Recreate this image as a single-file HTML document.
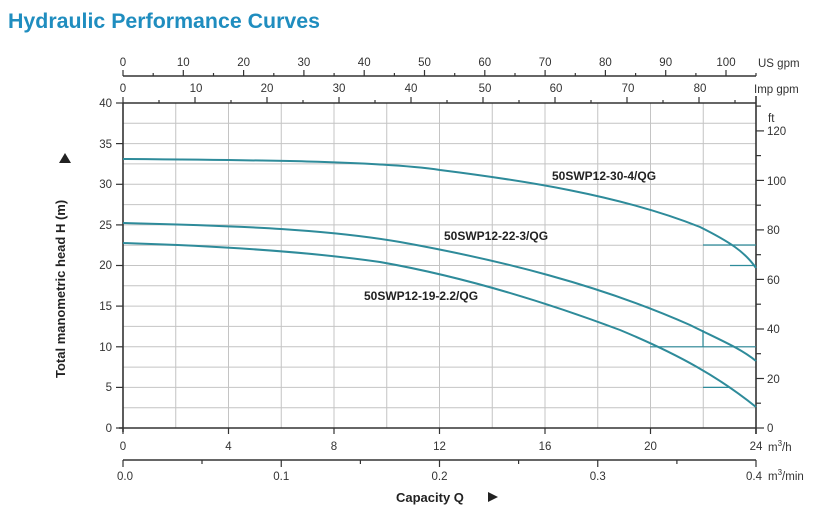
<!DOCTYPE html>
<html><head><meta charset="utf-8"><style>
html,body{margin:0;padding:0;background:#fff;}
svg{display:block;font-family:"Liberation Sans",Arial,sans-serif;}
</style></head><body>
<svg width="828" height="518" viewBox="0 0 828 518" xmlns="http://www.w3.org/2000/svg">
<text x="8" y="28" font-size="21" font-weight="bold" fill="#1f8dbf" textLength="312" lengthAdjust="spacingAndGlyphs">Hydraulic Performance Curves</text>
<g stroke="#c4c4c4" stroke-width="1">
<line x1="123" x2="756" y1="407.7" y2="407.7"/><line x1="123" x2="756" y1="387.4" y2="387.4"/>
<line x1="123" x2="756" y1="367.1" y2="367.1"/><line x1="123" x2="756" y1="346.8" y2="346.8"/>
<line x1="123" x2="756" y1="326.4" y2="326.4"/><line x1="123" x2="756" y1="306.1" y2="306.1"/>
<line x1="123" x2="756" y1="285.8" y2="285.8"/><line x1="123" x2="756" y1="265.5" y2="265.5"/>
<line x1="123" x2="756" y1="245.2" y2="245.2"/><line x1="123" x2="756" y1="224.9" y2="224.9"/>
<line x1="123" x2="756" y1="204.6" y2="204.6"/><line x1="123" x2="756" y1="184.3" y2="184.3"/>
<line x1="123" x2="756" y1="163.9" y2="163.9"/><line x1="123" x2="756" y1="143.6" y2="143.6"/>
<line x1="123" x2="756" y1="123.3" y2="123.3"/>
<line y1="103" y2="428" x1="175.75" x2="175.75"/><line y1="103" y2="428" x1="228.5" x2="228.5"/>
<line y1="103" y2="428" x1="281.25" x2="281.25"/><line y1="103" y2="428" x1="334" x2="334"/>
<line y1="103" y2="428" x1="386.75" x2="386.75"/><line y1="103" y2="428" x1="439.5" x2="439.5"/>
<line y1="103" y2="428" x1="492.25" x2="492.25"/><line y1="103" y2="428" x1="545" x2="545"/>
<line y1="103" y2="428" x1="597.75" x2="597.75"/><line y1="103" y2="428" x1="650.5" x2="650.5"/>
<line y1="103" y2="428" x1="703.25" x2="703.25"/>
</g>
<g stroke="#333" stroke-width="1.6" fill="none">
<line x1="123" y1="103" x2="756" y2="103"/>
<line x1="123" y1="103" x2="123" y2="432"/>
<line x1="119" y1="428" x2="756" y2="428"/>
<line x1="756" y1="96" x2="756" y2="434"/>
<line x1="123" y1="76" x2="756" y2="76"/>
<line x1="123" y1="460" x2="756" y2="460"/>
</g>
<g stroke="#333" stroke-width="1.2">
<line x1="116" x2="123" y1="103" y2="103"/><line x1="116" x2="123" y1="143.6" y2="143.6"/>
<line x1="116" x2="123" y1="184.3" y2="184.3"/><line x1="116" x2="123" y1="224.9" y2="224.9"/>
<line x1="116" x2="123" y1="265.5" y2="265.5"/><line x1="116" x2="123" y1="306.1" y2="306.1"/>
<line x1="116" x2="123" y1="346.8" y2="346.8"/><line x1="116" x2="123" y1="387.4" y2="387.4"/>
<line x1="116" x2="123" y1="428" y2="428"/>
<line x1="756" x2="764" y1="428" y2="428"/><line x1="756" x2="761" y1="403.2" y2="403.2"/>
<line x1="756" x2="764" y1="378.5" y2="378.5"/><line x1="756" x2="761" y1="353.7" y2="353.7"/>
<line x1="756" x2="764" y1="329" y2="329"/><line x1="756" x2="761" y1="304.2" y2="304.2"/>
<line x1="756" x2="764" y1="279.4" y2="279.4"/><line x1="756" x2="761" y1="254.7" y2="254.7"/>
<line x1="756" x2="764" y1="229.9" y2="229.9"/><line x1="756" x2="761" y1="205.2" y2="205.2"/>
<line x1="756" x2="764" y1="180.4" y2="180.4"/><line x1="756" x2="761" y1="155.6" y2="155.6"/>
<line x1="756" x2="764" y1="130.9" y2="130.9"/><line x1="756" x2="761" y1="106.1" y2="106.1"/>
<line y1="428" y2="434" x1="123" x2="123"/><line y1="428" y2="434" x1="228.5" x2="228.5"/>
<line y1="428" y2="434" x1="334" x2="334"/><line y1="428" y2="434" x1="439.5" x2="439.5"/>
<line y1="428" y2="434" x1="545" x2="545"/><line y1="428" y2="434" x1="650.5" x2="650.5"/>
<line y1="428" y2="434" x1="756" x2="756"/>
<line y1="460" y2="467" x1="123" x2="123"/><line y1="460" y2="464" x1="202" x2="202"/>
<line y1="460" y2="467" x1="281.25" x2="281.25"/><line y1="460" y2="464" x1="360.4" x2="360.4"/>
<line y1="460" y2="467" x1="439.5" x2="439.5"/><line y1="460" y2="464" x1="518.6" x2="518.6"/>
<line y1="460" y2="467" x1="597.75" x2="597.75"/><line y1="460" y2="464" x1="676.9" x2="676.9"/>
<line y1="460" y2="467" x1="756" x2="756"/>
<line y1="70" y2="76" x1="123" x2="123"/><line y1="73" y2="76" x1="153.2" x2="153.2"/>
<line y1="70" y2="76" x1="183.3" x2="183.3"/><line y1="73" y2="76" x1="213.5" x2="213.5"/>
<line y1="70" y2="76" x1="243.6" x2="243.6"/><line y1="73" y2="76" x1="273.8" x2="273.8"/>
<line y1="70" y2="76" x1="303.9" x2="303.9"/><line y1="73" y2="76" x1="334.1" x2="334.1"/>
<line y1="70" y2="76" x1="364.2" x2="364.2"/><line y1="73" y2="76" x1="394.4" x2="394.4"/>
<line y1="70" y2="76" x1="424.5" x2="424.5"/><line y1="73" y2="76" x1="454.7" x2="454.7"/>
<line y1="70" y2="76" x1="484.8" x2="484.8"/><line y1="73" y2="76" x1="515" x2="515"/>
<line y1="70" y2="76" x1="545.1" x2="545.1"/><line y1="73" y2="76" x1="575.3" x2="575.3"/>
<line y1="70" y2="76" x1="605.4" x2="605.4"/><line y1="73" y2="76" x1="635.6" x2="635.6"/>
<line y1="70" y2="76" x1="665.7" x2="665.7"/><line y1="73" y2="76" x1="695.9" x2="695.9"/>
<line y1="70" y2="76" x1="726" x2="726"/><line y1="73" y2="76" x1="756" x2="756"/>
<line y1="97" y2="103" x1="123" x2="123"/><line y1="100" y2="103" x1="159" x2="159"/>
<line y1="97" y2="103" x1="195" x2="195"/><line y1="100" y2="103" x1="231" x2="231"/>
<line y1="97" y2="103" x1="267" x2="267"/><line y1="100" y2="103" x1="303" x2="303"/>
<line y1="97" y2="103" x1="339" x2="339"/><line y1="100" y2="103" x1="375" x2="375"/>
<line y1="97" y2="103" x1="411" x2="411"/><line y1="100" y2="103" x1="447" x2="447"/>
<line y1="97" y2="103" x1="483" x2="483"/><line y1="100" y2="103" x1="519" x2="519"/>
<line y1="97" y2="103" x1="555" x2="555"/><line y1="100" y2="103" x1="591" x2="591"/>
<line y1="97" y2="103" x1="627" x2="627"/><line y1="100" y2="103" x1="663" x2="663"/>
<line y1="97" y2="103" x1="699" x2="699"/><line y1="100" y2="103" x1="735" x2="735"/>
</g>
<g font-size="11.5" fill="#333" text-anchor="end">
<text x="112" y="107">40</text><text x="112" y="148">35</text><text x="112" y="188">30</text>
<text x="112" y="229">25</text><text x="112" y="269">20</text><text x="112" y="310">15</text>
<text x="112" y="351">10</text><text x="112" y="391">5</text><text x="112" y="432">0</text>
</g>
<g font-size="11.5" fill="#333">
<text x="767" y="432">0</text><text x="767" y="383">20</text><text x="767" y="333">40</text>
<text x="767" y="284">60</text><text x="767" y="234">80</text><text x="767" y="185">100</text>
<text x="767" y="135">120</text><text x="768" y="122">ft</text>
<text x="758" y="67">US gpm</text><text x="754" y="93">Imp gpm</text>
<text x="768" y="451">m<tspan font-size="8" dy="-5">3</tspan><tspan dy="5">/h</tspan></text>
<text x="768" y="480">m<tspan font-size="8" dy="-5">3</tspan><tspan dy="5">/min</tspan></text>
</g>
<g font-size="11.5" fill="#333" text-anchor="middle">
<text x="123" y="450">0</text><text x="228.5" y="450">4</text><text x="334" y="450">8</text>
<text x="439.5" y="450">12</text><text x="545" y="450">16</text><text x="650.5" y="450">20</text><text x="756" y="450">24</text>
<text x="125" y="480">0.0</text><text x="281.25" y="480">0.1</text><text x="439.5" y="480">0.2</text>
<text x="597.75" y="480">0.3</text><text x="754" y="480">0.4</text>
<text x="123" y="66">0</text><text x="183.3" y="66">10</text><text x="243.6" y="66">20</text>
<text x="303.9" y="66">30</text><text x="364.2" y="66">40</text><text x="424.5" y="66">50</text>
<text x="484.8" y="66">60</text><text x="545.1" y="66">70</text><text x="605.4" y="66">80</text>
<text x="665.7" y="66">90</text><text x="726" y="66">100</text>
<text x="123" y="92">0</text><text x="196" y="92">10</text><text x="267" y="92">20</text>
<text x="339" y="92">30</text><text x="411" y="92">40</text><text x="485" y="92">50</text>
<text x="556" y="92">60</text><text x="628" y="92">70</text><text x="700" y="92">80</text>
</g>
<text x="396" y="502" font-size="13" font-weight="bold" fill="#222">Capacity Q</text>
<path d="M488 492 L498 497 L488 502 Z" fill="#222"/>
<text transform="translate(65,378) rotate(-90)" font-size="13" font-weight="bold" fill="#222">Total manometric head H (m)</text>
<path d="M59 163 L65 153 L71 163 Z" fill="#222"/>
<g fill="none" stroke="#2e8b9a" stroke-width="2">
<path d="M123 159 C250 160 380 161 440 170 C520 180 620 195 700 227 C730 242 745 252 756 268"/>
<path d="M123 223 C250 226 330 230 400 242 C500 260 600 285 690 325 C720 340 740 348 756 361"/>
<path d="M123 243 C220 246 310 252 380 262 C460 276 540 300 620 330 C680 355 720 378 756 407"/>
</g>
<g stroke="#2e8b9a" stroke-width="1.2">
<line x1="703" y1="245" x2="756" y2="245"/>
<line x1="730" y1="265.5" x2="756" y2="265.5"/>
<line x1="703" y1="330" x2="703" y2="346.8"/>
<line x1="650" y1="346.8" x2="756" y2="346.8"/>
<line x1="703" y1="387.4" x2="730" y2="387.4"/>
</g>
<g font-size="12" font-weight="bold" fill="#222">
<text x="552" y="180">50SWP12-30-4/QG</text>
<text x="444" y="240">50SWP12-22-3/QG</text>
<text x="364" y="300">50SWP12-19-2.2/QG</text>
</g>
</svg>
</body></html>
